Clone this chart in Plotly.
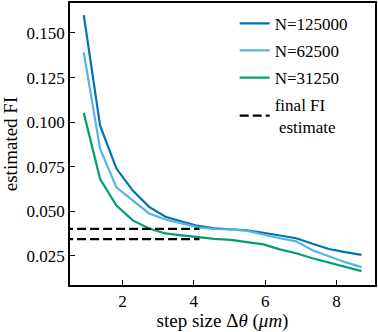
import plotly.graph_objects as go

# step sizes (um)
step = [0.916, 1.374, 1.832, 2.29, 2.748, 3.206, 3.664, 4.122, 4.58, 5.038,
        5.496, 5.954, 6.412, 6.87, 7.328, 7.786, 8.244, 8.702]

# estimated FI per sample size
fi_125000 = [0.160, 0.098, 0.074, 0.0616, 0.0525, 0.047, 0.0443, 0.0418, 0.0404, 0.0400,
             0.0394, 0.0380, 0.0366, 0.0349, 0.0318, 0.0289, 0.0271, 0.0256]
fi_62500 = [0.1391, 0.0850, 0.0634, 0.0560, 0.0488, 0.0454, 0.0432, 0.0410, 0.0401, 0.0399,
            0.0390, 0.0368, 0.0349, 0.0332, 0.0282, 0.0248, 0.0215, 0.0187]
fi_31250 = [0.1052, 0.0681, 0.0532, 0.0449, 0.0404, 0.0376, 0.0365, 0.0354, 0.0346, 0.0340,
            0.0329, 0.0315, 0.0287, 0.0265, 0.0237, 0.0212, 0.0187, 0.0165]

# final FI estimates (dashed)
final_fi = [0.0402, 0.0344]
final_span = [0.0, 4.16]

series = [
    ('N=125000', fi_125000, '#0173B2'),
    ('N=62500', fi_62500, '#56B4E9'),
    ('N=31250', fi_31250, '#029E73'),
]

font = 'Liberation Serif, Times New Roman, serif'

fig = go.Figure()
for name, vals, col in series:
    fig.add_trace(go.Scatter(x=step, y=vals, mode='lines', name=name, legendgroup=name,
                             line=dict(color=col, width=2.2)))

for i, v in enumerate(final_fi):
    fig.add_trace(go.Scatter(x=final_span, y=[v, v], mode='lines', legendgroup='final',
                             name='final FI<br>\u00a0estimate', showlegend=(i == 0),
                             line=dict(color='black', width=2.2, dash='9px,4px')))

fig.update_layout(
    width=378, height=332,
    margin=dict(l=70, r=2, t=1, b=47),
    paper_bgcolor='white', plot_bgcolor='white',
    font=dict(family=font, size=16, color='black'),
    showlegend=True,
    legend=dict(x=0.54, y=0.99, xanchor='left', yanchor='top', tracegroupgap=2,
                bgcolor='rgba(0,0,0,0)', font=dict(family=font, size=17)),
)
fig.update_xaxes(range=[0.53, 9.08], tickvals=[2, 4, 6, 8], ticks='inside', ticklen=5,
                 tickcolor='black', showline=True, linecolor='black', linewidth=1.5,
                 mirror=True, showgrid=False, zeroline=False,
                 tickfont=dict(family=font, size=17),
                 title=dict(text='step size \u0394<i>\u03b8</i> (<i>\u03bcm</i>)', standoff=6))
fig.update_yaxes(range=[0.0087, 0.1668], tickvals=[0.025, 0.05, 0.075, 0.1, 0.125, 0.15],
                 tickformat='.3f', ticks='inside', ticklen=5, tickcolor='black',
                 showline=True, linecolor='black', linewidth=1.5, mirror=True,
                 showgrid=False, zeroline=False,
                 tickfont=dict(family=font, size=17),
                 title=dict(text='estimated FI', standoff=6))

fig.write_html('out.html', config={'displayModeBar': False},
               post_script="document.body.style.margin='0';")
